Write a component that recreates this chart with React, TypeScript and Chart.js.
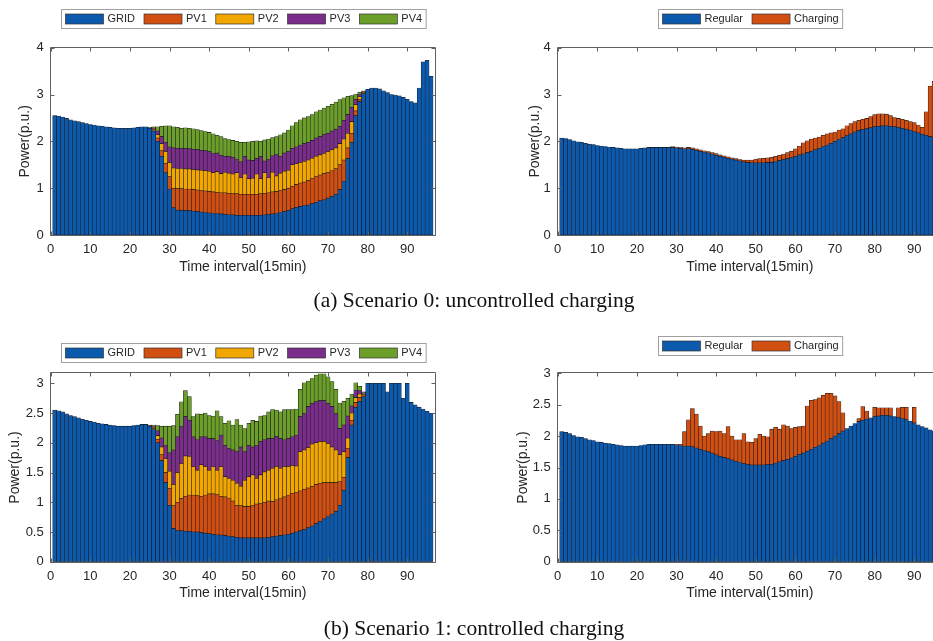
import React, { useEffect, useRef } from 'react';
import { Chart, registerables } from 'chart.js';

Chart.register(...registerables);

const FONT = '"Liberation Sans", Arial, Helvetica, sans-serif';
const SERIF = '"Liberation Serif", "Times New Roman", Times, serif';
const TXT = '#262626';

// Time intervals (15 min), 1..96
const INTERVALS = [
  1, 2, 3, 4, 5, 6, 7, 8, 9, 10, 11, 12, 13, 14, 15, 16, 17, 18, 19, 20,
  21, 22, 23, 24, 25, 26, 27, 28, 29, 30, 31, 32, 33, 34, 35, 36, 37, 38, 39, 40,
  41, 42, 43, 44, 45, 46, 47, 48, 49, 50, 51, 52, 53, 54, 55, 56, 57, 58, 59, 60,
  61, 62, 63, 64, 65, 66, 67, 68, 69, 70, 71, 72, 73, 74, 75, 76, 77, 78, 79, 80,
  81, 82, 83, 84, 85, 86, 87, 88, 89, 90, 91, 92, 93, 94, 95, 96,
];
const X_TICKS = [0, 10, 20, 30, 40, 50, 60, 70, 80, 90];

// ---------- Scenario 0 (uncontrolled), supply side ----------
const GRID_A = [
  2.55, 2.54, 2.52, 2.49, 2.46, 2.44, 2.42, 2.40, 2.38, 2.36,
  2.35, 2.33, 2.32, 2.31, 2.30, 2.29, 2.28, 2.28, 2.28, 2.28,
  2.29, 2.30, 2.31, 2.31, 2.28, 2.22, 2.00, 1.68, 1.33, 0.98,
  0.58, 0.53, 0.53, 0.52, 0.52, 0.51, 0.50, 0.49, 0.48, 0.47,
  0.46, 0.46, 0.45, 0.44, 0.43, 0.43, 0.42, 0.42, 0.42, 0.42,
  0.42, 0.42, 0.42, 0.43, 0.44, 0.45, 0.46, 0.48, 0.50, 0.52,
  0.56, 0.59, 0.61, 0.63, 0.64, 0.67, 0.70, 0.73, 0.75, 0.79,
  0.82, 0.87, 0.97, 1.15, 1.63, 1.98, 2.55, 2.85, 3.02, 3.11,
  3.14, 3.14, 3.12, 3.08, 3.04, 3.00, 2.99, 2.97, 2.94, 2.90,
  2.85, 2.82, 3.14, 3.70, 3.73, 3.39,
];
const PV1_A = [
  0, 0, 0, 0, 0, 0, 0, 0, 0, 0, 0, 0, 0, 0, 0, 0, 0, 0, 0, 0, 0, 0, 0, 0,
  0.01, 0.03, 0.07, 0.12, 0.20, 0.27,
  0.42, 0.46, 0.46, 0.46, 0.46, 0.46, 0.46, 0.46, 0.46, 0.46,
  0.46, 0.45, 0.45, 0.46, 0.46, 0.45, 0.46, 0.45, 0.45, 0.45,
  0.45, 0.45, 0.46, 0.46, 0.46, 0.47, 0.47, 0.47, 0.47, 0.48,
  0.48, 0.49, 0.50, 0.50, 0.52, 0.53, 0.55, 0.55, 0.56, 0.55,
  0.55, 0.55, 0.53, 0.45, 0.23, 0.19, 0.10, 0.05, 0.02, 0,
  0, 0, 0, 0, 0, 0, 0, 0, 0, 0, 0, 0, 0, 0, 0, 0,
];
const PV2_A = [
  0, 0, 0, 0, 0, 0, 0, 0, 0, 0, 0, 0, 0, 0, 0, 0, 0, 0, 0, 0, 0, 0, 0, 0,
  0, 0.02, 0.07, 0.15, 0.25, 0.30,
  0.43, 0.43, 0.43, 0.43, 0.43, 0.43, 0.43, 0.43, 0.43, 0.43,
  0.41, 0.44, 0.41, 0.44, 0.43, 0.42, 0.45, 0.35, 0.43, 0.33,
  0.34, 0.43, 0.32, 0.44, 0.32, 0.42, 0.33, 0.37, 0.39, 0.38,
  0.46, 0.44, 0.44, 0.44, 0.44, 0.44, 0.43, 0.43, 0.43, 0.44,
  0.45, 0.44, 0.45, 0.45, 0.31, 0.25, 0.13, 0.05, 0.02, 0,
  0, 0, 0, 0, 0, 0, 0, 0, 0, 0, 0, 0, 0, 0, 0, 0,
];
const PV3_A = [
  0, 0, 0, 0, 0, 0, 0, 0, 0, 0, 0, 0, 0, 0, 0, 0, 0, 0, 0, 0, 0, 0, 0, 0,
  0, 0.02, 0.08, 0.15, 0.20, 0.33,
  0.43, 0.43, 0.43, 0.44, 0.43, 0.43, 0.44, 0.43, 0.43, 0.42,
  0.41, 0.40, 0.39, 0.34, 0.36, 0.36, 0.29, 0.34, 0.38, 0.40,
  0.38, 0.33, 0.48, 0.25, 0.40, 0.35, 0.46, 0.36, 0.39, 0.40,
  0.35, 0.36, 0.37, 0.38, 0.38, 0.38, 0.39, 0.39, 0.40, 0.39,
  0.40, 0.40, 0.37, 0.40, 0.40, 0.30, 0.12, 0.05, 0.01, 0,
  0, 0, 0, 0, 0, 0, 0, 0, 0, 0, 0, 0, 0, 0, 0, 0,
];
const PV4_A = [
  0, 0, 0, 0, 0, 0, 0, 0, 0, 0, 0, 0, 0, 0, 0, 0, 0, 0, 0, 0, 0, 0, 0, 0,
  0.01, 0.02, 0.09, 0.22, 0.35, 0.45,
  0.45, 0.45, 0.43, 0.44, 0.44, 0.44, 0.42, 0.42, 0.41, 0.41,
  0.42, 0.38, 0.40, 0.38, 0.36, 0.36, 0.38, 0.42, 0.30, 0.39,
  0.41, 0.38, 0.32, 0.45, 0.43, 0.39, 0.38, 0.46, 0.43, 0.46,
  0.48, 0.52, 0.54, 0.55, 0.55, 0.55, 0.56, 0.57, 0.57, 0.58,
  0.57, 0.58, 0.57, 0.48, 0.39, 0.26, 0.11, 0.05, 0.01, 0,
  0, 0, 0, 0, 0, 0, 0, 0, 0, 0, 0, 0, 0, 0, 0, 0,
];

// ---------- Scenario 1 (controlled), supply side ----------
const GRID_B = [
  2.55, 2.54, 2.52, 2.49, 2.46, 2.44, 2.42, 2.40, 2.38, 2.36,
  2.35, 2.33, 2.32, 2.31, 2.30, 2.29, 2.28, 2.28, 2.28, 2.28,
  2.29, 2.30, 2.31, 2.31, 2.28, 2.22, 2.00, 1.70, 1.33, 0.95,
  0.56, 0.52, 0.52, 0.51, 0.51, 0.50, 0.50, 0.49, 0.48, 0.47,
  0.46, 0.45, 0.45, 0.44, 0.43, 0.42, 0.41, 0.40, 0.40, 0.40,
  0.40, 0.40, 0.40, 0.40, 0.41, 0.42, 0.43, 0.44, 0.45, 0.46,
  0.48, 0.50, 0.52, 0.54, 0.57, 0.60, 0.64, 0.68, 0.72, 0.76,
  0.80, 0.85, 0.95, 1.20, 1.75, 2.30, 2.60, 2.70, 2.78, 3.00,
  3.00, 3.00, 3.00, 3.00, 2.86, 3.00, 3.00, 3.00, 2.75, 3.00,
  2.68, 2.64, 2.60, 2.57, 2.53, 2.50,
];
const PV1_B = [
  0, 0, 0, 0, 0, 0, 0, 0, 0, 0, 0, 0, 0, 0, 0, 0, 0, 0, 0, 0, 0, 0, 0, 0,
  0.01, 0.02, 0.06, 0.10, 0.17, 0.28,
  0.39, 0.48, 0.54, 0.59, 0.61, 0.62, 0.61, 0.61, 0.64, 0.67,
  0.68, 0.68, 0.65, 0.65, 0.64, 0.60, 0.54, 0.54, 0.53, 0.53,
  0.54, 0.57, 0.58, 0.60, 0.61, 0.59, 0.61, 0.63, 0.64, 0.66,
  0.67, 0.66, 0.67, 0.68, 0.67, 0.67, 0.66, 0.64, 0.61, 0.57,
  0.53, 0.48, 0.40, 0.22, 0.15, 0.08, 0.08, 0.06, 0.03, 0,
  0, 0, 0, 0, 0, 0, 0, 0, 0, 0, 0, 0, 0, 0, 0, 0,
];
const PV2_B = [
  0, 0, 0, 0, 0, 0, 0, 0, 0, 0, 0, 0, 0, 0, 0, 0, 0, 0, 0, 0, 0, 0, 0, 0,
  0, 0.02, 0.06, 0.13, 0.23, 0.29,
  0.35, 0.50, 0.59, 0.68, 0.65, 0.48, 0.43, 0.53, 0.48, 0.40,
  0.46, 0.41, 0.50, 0.34, 0.33, 0.35, 0.37, 0.33, 0.44, 0.50,
  0.52, 0.43, 0.48, 0.51, 0.52, 0.56, 0.56, 0.50, 0.51, 0.48,
  0.47, 0.45, 0.66, 0.66, 0.68, 0.71, 0.70, 0.70, 0.69, 0.66,
  0.60, 0.55, 0.45, 0.43, 0.18, 0.12, 0.08, 0.06, 0.02, 0,
  0, 0, 0, 0, 0, 0, 0, 0, 0, 0, 0, 0, 0, 0, 0, 0,
];
const PV3_B = [
  0, 0, 0, 0, 0, 0, 0, 0, 0, 0, 0, 0, 0, 0, 0, 0, 0, 0, 0, 0, 0, 0, 0, 0,
  0.01, 0.02, 0.08, 0.15, 0.22, 0.31,
  0.58, 0.60, 0.62, 0.66, 0.61, 0.50, 0.51, 0.47, 0.50, 0.53,
  0.47, 0.50, 0.53, 0.53, 0.50, 0.51, 0.53, 0.66, 0.48, 0.53,
  0.47, 0.55, 0.56, 0.54, 0.53, 0.50, 0.51, 0.50, 0.45, 0.47,
  0.48, 0.52, 0.59, 0.61, 0.69, 0.68, 0.69, 0.69, 0.69, 0.67,
  0.68, 0.61, 0.44, 0.45, 0.37, 0.12, 0.12, 0.06, 0.01, 0,
  0, 0, 0, 0, 0, 0, 0, 0, 0, 0, 0, 0, 0, 0, 0, 0,
];
const PV4_B = [
  0, 0, 0, 0, 0, 0, 0, 0, 0, 0, 0, 0, 0, 0, 0, 0, 0, 0, 0, 0, 0, 0, 0, 0,
  0, 0.02, 0.09, 0.20, 0.33, 0.45,
  0.41, 0.38, 0.42, 0.44, 0.40, 0.34, 0.44, 0.38, 0.40, 0.39,
  0.38, 0.50, 0.31, 0.37, 0.47, 0.42, 0.54, 0.37, 0.39, 0.37,
  0.45, 0.41, 0.43, 0.41, 0.45, 0.49, 0.44, 0.45, 0.51, 0.49,
  0.46, 0.44, 0.46, 0.52, 0.43, 0.42, 0.45, 0.45, 0.45, 0.45,
  0.42, 0.41, 0.43, 0.40, 0.30, 0.20, 0.13, 0.07, 0.02, 0,
  0, 0, 0, 0, 0, 0, 0, 0, 0, 0, 0, 0, 0, 0, 0, 0,
];

// ---------- Demand side ----------
const REGULAR = [
  2.07, 2.06, 2.04, 2.01, 1.99, 1.98, 1.96, 1.94, 1.93, 1.91,
  1.90, 1.89, 1.88, 1.87, 1.86, 1.85, 1.84, 1.84, 1.84, 1.84,
  1.85, 1.86, 1.87, 1.87, 1.87, 1.87, 1.87, 1.87, 1.87, 1.86,
  1.85, 1.84, 1.84, 1.83, 1.81, 1.79, 1.77, 1.75, 1.73, 1.70,
  1.68, 1.66, 1.64, 1.62, 1.60, 1.58, 1.56, 1.55, 1.54, 1.54,
  1.54, 1.54, 1.55, 1.55, 1.57, 1.59, 1.61, 1.63, 1.65, 1.68,
  1.71, 1.73, 1.76, 1.79, 1.82, 1.85, 1.89, 1.92, 1.96, 2.00,
  2.04, 2.08, 2.12, 2.16, 2.20, 2.23, 2.25, 2.27, 2.29, 2.31,
  2.32, 2.33, 2.33, 2.32, 2.31, 2.30, 2.28, 2.26, 2.24, 2.21,
  2.18, 2.15, 2.13, 2.10, 2.08, 2.06,
];
const CHARGING_A = [
  0, 0, 0, 0, 0, 0, 0, 0, 0, 0, 0, 0, 0, 0, 0, 0, 0, 0, 0, 0, 0, 0, 0, 0, 0, 0, 0,
  0.01, 0.02, 0.02,
  0.02, 0.02, 0.03, 0.03, 0.03, 0.03, 0.03, 0.03, 0.03, 0.04,
  0.03, 0.03, 0.03, 0.03, 0.03, 0.03, 0.04, 0.05, 0.06, 0.08,
  0.09, 0.10, 0.10, 0.11, 0.11, 0.11, 0.12, 0.13, 0.14, 0.16,
  0.19, 0.24, 0.25, 0.26, 0.25, 0.24, 0.24, 0.24, 0.22, 0.20,
  0.20, 0.19, 0.21, 0.22, 0.22, 0.22, 0.22, 0.22, 0.24, 0.26,
  0.27, 0.26, 0.25, 0.23, 0.20, 0.19, 0.19, 0.19, 0.18, 0.19,
  0.17, 0.15, 0.50, 1.08, 1.20, 0.90,
];
const CHARGING_B = [
  0, 0, 0, 0, 0, 0, 0, 0, 0, 0, 0, 0, 0, 0, 0, 0, 0, 0, 0, 0, 0, 0, 0, 0, 0, 0, 0, 0, 0,
  0.01,
  0.02, 0.23, 0.42, 0.61, 0.54, 0.37, 0.23, 0.29, 0.35, 0.37,
  0.40, 0.38, 0.51, 0.38, 0.34, 0.36, 0.48, 0.36, 0.36, 0.42,
  0.49, 0.46, 0.44, 0.56, 0.57, 0.52, 0.57, 0.53, 0.47, 0.46,
  0.44, 0.43, 0.72, 0.78, 0.76, 0.76, 0.76, 0.76, 0.72, 0.64,
  0.51, 0.29, 0, 0, 0, 0.05, 0.22, 0.13, 0, 0.15,
  0.13, 0.12, 0.12, 0.13, 0, 0.15, 0.18, 0.20, 0, 0.25,
  0, 0, 0, 0, 0, 0,
];

const C_BLUE = '#0c5aae';
const C_ORANGE = '#d24f12';
const C_YELLOW = '#f2a600';
const C_PURPLE = '#7b2d8b';
const C_GREEN = '#6b9f2a';

type Series = { label: string; values: number[]; color: string };
type PanelCfg = {
  left: number; top: number; width: number; height: number;
  area: { l: number; t: number; r: number; b: number };
  yMax: number; yStep: number;
  legendTop: number; yTitleX: number; xTitleY: number;
  series: Series[];
};

const XH = 45;

const legendBox = {
  id: 'legendBox',
  afterDraw(chart: any, _args: any, opts: any) {
    const { ctx, chartArea } = chart;
    const ds = chart.data.datasets;
    ctx.save();
    ctx.font = `11px ${FONT}`;
    const sw = 38, sh = 10, gap = 4, itemGap = 9, padX = 4, h = 19;
    const widths = ds.map((d: any) => ctx.measureText(d.label).width);
    let total = padX * 2 + itemGap * (ds.length - 1);
    widths.forEach((w: number) => { total += sw + gap + w; });
    const cx = (chartArea.left + chartArea.right) / 2;
    const x0 = Math.round(cx - total / 2) + 0.5;
    const y0 = Math.round(opts.top) + 0.5;
    ctx.fillStyle = '#ffffff';
    ctx.fillRect(x0, y0, total, h);
    ctx.strokeStyle = '#a0a0a0';
    ctx.lineWidth = 1;
    ctx.strokeRect(x0, y0, total, h);
    let x = x0 + padX;
    ds.forEach((d: any, i: number) => {
      ctx.fillStyle = d.backgroundColor;
      ctx.fillRect(x, y0 + 4.5, sw, sh);
      ctx.strokeStyle = '#333';
      ctx.lineWidth = 0.7;
      ctx.strokeRect(x, y0 + 4.5, sw, sh);
      x += sw + gap;
      ctx.fillStyle = TXT;
      ctx.textBaseline = 'middle';
      ctx.textAlign = 'left';
      ctx.fillText(d.label, x, y0 + h / 2);
      x += widths[i] + itemGap;
    });
    ctx.restore();
  },
};

const frame = {
  id: 'frame',
  afterDatasetsDraw(chart: any) {
    const { ctx, chartArea: a, scales } = chart;
    ctx.save();
    ctx.strokeStyle = '#606060';
    ctx.lineWidth = 1;
    const L = Math.round(a.left) - 0.5;
    const R = Math.round(a.right) + 0.5;
    const T = Math.round(a.top) - 0.5;
    const B = Math.round(a.bottom) + 0.5;
    ctx.beginPath();
    ctx.rect(L, T, R - L, B - T);
    ctx.stroke();
    const tl = 4;
    ctx.beginPath();
    scales.x.ticks.forEach((t: any) => {
      const px = Math.round(scales.x.getPixelForValue(t.value)) + 0.5;
      ctx.moveTo(px, T); ctx.lineTo(px, T + tl);
      ctx.moveTo(px, B); ctx.lineTo(px, B - tl);
    });
    scales.y.ticks.forEach((t: any) => {
      const py = Math.round(scales.y.getPixelForValue(t.value)) + 0.5;
      ctx.moveTo(L, py); ctx.lineTo(L + tl, py);
      ctx.moveTo(R, py); ctx.lineTo(R - tl, py);
    });
    ctx.stroke();
    ctx.restore();
  },
};

function Panel({ cfg }: { cfg: PanelCfg }) {
  const ref = useRef<HTMLCanvasElement | null>(null);
  useEffect(() => {
    if (!ref.current) return;
    const { area, width, height } = cfg;
    const chart = new Chart(ref.current, {
      type: 'bar',
      data: {
        datasets: cfg.series.map((s) => ({
          label: s.label,
          data: s.values.map((v, i) => ({ x: INTERVALS[i], y: v })),
          backgroundColor: s.color,
          borderColor: '#15151c',
          borderWidth: 0.55,
          borderSkipped: false,
          barPercentage: 1,
          categoryPercentage: 1,
          stack: 'total',
        })),
      },
      options: {
        responsive: false,
        animation: false,
        devicePixelRatio: 1,
        events: [],
        layout: {
          padding: { left: 0, top: area.t, right: width - area.r, bottom: height - area.b - XH },
        },
        plugins: {
          legend: { display: false },
          tooltip: { enabled: false },
          legendBox: { top: cfg.legendTop },
        } as any,
        scales: {
          x: {
            type: 'linear',
            min: 0,
            max: 97,
            offset: false,
            stacked: true,
            grid: { display: false, drawTicks: false, offset: false },
            border: { display: false },
            afterBuildTicks: (s: any) => { s.ticks = X_TICKS.map((v) => ({ value: v })); },
            afterFit: (s: any) => { s.height = XH; },
            ticks: {
              autoSkip: false,
              maxRotation: 0,
              padding: 7,
              color: TXT,
              font: { family: FONT, size: 13 },
              callback: (v: any) => String(v),
            },
            title: {
              display: true,
              text: 'Time interval(15min)',
              color: TXT,
              font: { family: FONT, size: 14 },
              padding: { top: 0, bottom: area.b + XH - 8.4 - cfg.xTitleY },
            },
          },
          y: {
            type: 'linear',
            min: 0,
            max: cfg.yMax,
            stacked: true,
            grid: { display: false, drawTicks: false },
            border: { display: false },
            afterFit: (s: any) => { s.width = area.l; },
            ticks: {
              stepSize: cfg.yStep,
              includeBounds: false,
              padding: 7,
              color: TXT,
              font: { family: FONT, size: 13 },
              callback: (v: any) => String(v),
            },
            title: {
              display: true,
              text: 'Power(p.u.)',
              color: TXT,
              font: { family: FONT, size: 14 },
              padding: { top: cfg.yTitleX - 8.4, bottom: 0 },
            },
          },
        } as any,
      },
      plugins: [frame, legendBox],
    } as any);
    return () => chart.destroy();
  }, [cfg]);
  return (
    <div style={{ position: 'absolute', left: cfg.left, top: cfg.top, width: cfg.width, height: cfg.height }}>
      <canvas ref={ref} width={cfg.width} height={cfg.height} style={{ display: 'block', width: cfg.width, height: cfg.height }} />
    </div>
  );
}

const PANELS: PanelCfg[] = [
  {
    left: 0, top: 0, width: 466, height: 320,
    area: { l: 50.7, t: 47.7, r: 435, b: 235 },
    yMax: 4, yStep: 1, legendTop: 9, yTitleX: 25, xTitleY: 267,
    series: [
      { label: 'GRID', values: GRID_A, color: C_BLUE },
      { label: 'PV1', values: PV1_A, color: C_ORANGE },
      { label: 'PV2', values: PV2_A, color: C_YELLOW },
      { label: 'PV3', values: PV3_A, color: C_PURPLE },
      { label: 'PV4', values: PV4_A, color: C_GREEN },
    ],
  },
  {
    left: 480, top: 0, width: 480, height: 320,
    area: { l: 77.7, t: 47.7, r: 462, b: 235 },
    yMax: 4, yStep: 1, legendTop: 9, yTitleX: 55, xTitleY: 267,
    series: [
      { label: 'Regular', values: REGULAR, color: C_BLUE },
      { label: 'Charging', values: CHARGING_A, color: C_ORANGE },
    ],
  },
  {
    left: 0, top: 320, width: 466, height: 321,
    area: { l: 50.7, t: 53.3, r: 435, b: 241.7 },
    yMax: 3.17, yStep: 0.5, legendTop: 23, yTitleX: 15.5, xTitleY: 273.3,
    series: [
      { label: 'GRID', values: GRID_B, color: C_BLUE },
      { label: 'PV1', values: PV1_B, color: C_ORANGE },
      { label: 'PV2', values: PV2_B, color: C_YELLOW },
      { label: 'PV3', values: PV3_B, color: C_PURPLE },
      { label: 'PV4', values: PV4_B, color: C_GREEN },
    ],
  },
  {
    left: 480, top: 320, width: 480, height: 321,
    area: { l: 77.7, t: 53.3, r: 462, b: 241.7 },
    yMax: 3, yStep: 0.5, legendTop: 15.7, yTitleX: 43.3, xTitleY: 273,
    series: [
      { label: 'Regular', values: REGULAR, color: C_BLUE },
      { label: 'Charging', values: CHARGING_B, color: C_ORANGE },
    ],
  },
];

const CAPTIONS = [
  { text: '(a) Scenario 0: uncontrolled charging', y: 300 },
  { text: '(b) Scenario 1: controlled charging', y: 628 },
];

export default function App() {
  return (
    <div
      style={{
        position: 'fixed', left: 0, top: 0, width: 933, height: 641,
        overflow: 'hidden', background: '#ffffff',
      }}
    >
      {PANELS.map((p, i) => <Panel key={i} cfg={p} />)}
      {CAPTIONS.map((c, i) => (
        <div
          key={i}
          style={{
            position: 'absolute', left: 0, width: 948, top: c.y - 13, height: 26,
            lineHeight: '26px', textAlign: 'center', fontFamily: SERIF, fontSize: 21.5,
            color: '#111', whiteSpace: 'nowrap',
          }}
        >
          {c.text}
        </div>
      ))}
    </div>
  );
}
